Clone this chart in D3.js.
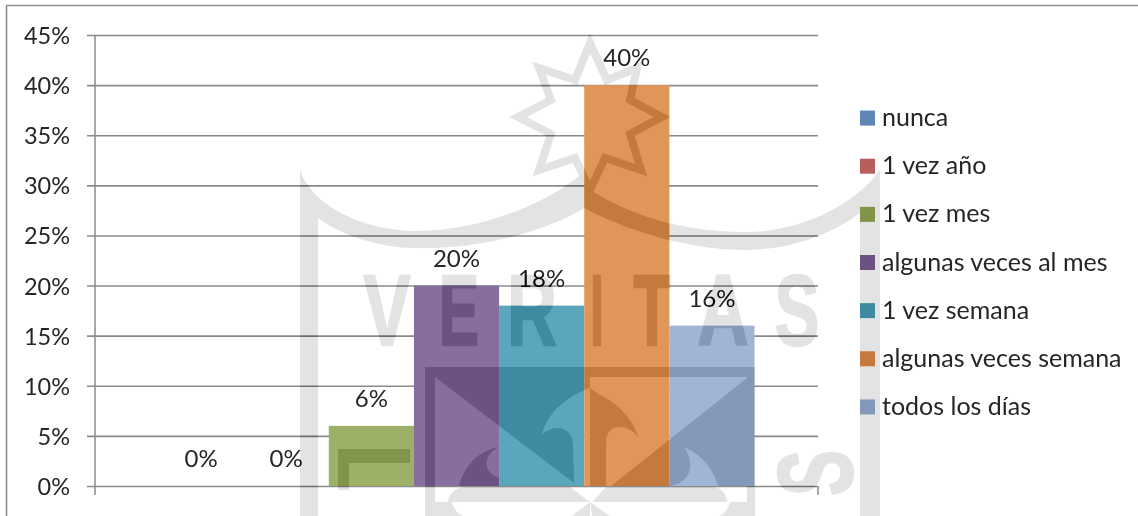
<!DOCTYPE html>
<html><head><meta charset="utf-8">
<script src="https://cdn.jsdelivr.net/npm/d3@7/dist/d3.min.js"></script>
<style>
html,body{margin:0;padding:0;background:#fff;overflow:hidden}
svg{display:block}
text{font-family:Lato,"Noto Sans",sans-serif;fill:#262626}
</style></head><body>
<div id="chart"></div>
<script>
const series = ["nunca","1 vez año","1 vez mes","algunas veces al mes","1 vez semana","algunas veces semana","todos los días"];
const values = [0,0,6,20,18,40,16];
const colors = ["#5f87b6","#b85f5e","#9cb167","#886e9e","#5aa7bd","#e09658","#a0b4d6"];
const yTicks = [0,5,10,15,20,25,30,35,40,45];
const watermarkLetters = ["V","E","R","I","T","A","S"];
const watermarkCenters = [387,459,532,597,652,723,797];
const watermarkStretch = [0.70,0.60,0.68,0.48,0.60,0.70,0.66];

const W = 1138, H = 516;
const svg = d3.select("#chart").append("svg").attr("width",W).attr("height",H);
svg.append("rect").attr("width",W).attr("height",H).attr("fill","#fff");

// chart frame
svg.append("path").attr("d","M6.5 516V5.5H1138").attr("fill","none").attr("stroke","#8f8f8f").attr("stroke-width",1.6);

const y = d3.scaleLinear().domain([0,45]).range([486,35]);
const xOuter = d3.scaleBand().domain(["all"]).range([95,818]).paddingOuter(0.1065);
const x = d3.scaleBand().domain(series).range([xOuter("all"), xOuter("all")+xOuter.bandwidth()]);
const legendY = d3.scaleBand().domain(series).range([94,431]);

// gridlines + value axis
const yAxis = d3.axisLeft(y).tickValues(yTicks).tickFormat(d=>d+"%").tickSize(0).tickPadding(25);
const gy = svg.append("g").attr("transform","translate(95,0)").call(yAxis);
gy.select(".domain").remove();
gy.selectAll("text").style("font-size","23.5px").attr("text-anchor","end").attr("dy","0.36em");
gy.selectAll(".tick").append("line").attr("x1",-8).attr("x2",723).attr("stroke","#8a8a8a").attr("stroke-width",1.6);

svg.append("line").attr("x1",95).attr("x2",95).attr("y1",35).attr("y2",495).attr("stroke","#8a8a8a").attr("stroke-width",1.5);
svg.append("line").attr("x1",818).attr("x2",818).attr("y1",486).attr("y2",495).attr("stroke","#8a8a8a").attr("stroke-width",1.5);

// bars
svg.append("g").selectAll("rect").data(series).join("rect")
  .attr("x",d=>x(d)).attr("width",x.bandwidth())
  .attr("y",(d,i)=>y(values[i])).attr("height",(d,i)=>y(0)-y(values[i]))
  .attr("fill",(d,i)=>colors[i]);

// data labels
svg.append("g").selectAll("text").data(series).join("text")
  .attr("x",d=>x(d)+x.bandwidth()/2).attr("y",(d,i)=>y(values[i])-19)
  .attr("text-anchor","middle").style("font-size","24px")
  .text((d,i)=>values[i]+"%");

// legend
const lg = svg.append("g").selectAll("g").data(series).join("g")
  .attr("transform",d=>`translate(860,${legendY(d)+legendY.bandwidth()/2})`);
lg.append("rect").attr("y",-7.5).attr("width",15).attr("height",15).attr("fill",(d,i)=>colors[i]);
lg.append("text").attr("x",22).attr("y",8).style("font-size","25px").text(d=>d);

// background seal watermark, subtractive over everything
const wm = svg.append("g").style("mix-blend-mode","difference").attr("fill","#1c1c1c");
const wmPaths = [
 "M300 170C312 205 360 230 415 231C480 231 545 205 584 172L590 190C615 205 665 232 745 232C795 232 850 210 880 170V516H860V213C830 235 790 250 745 250C690 250 630 232 584 208C550 230 480 250 415 248C380 248 340 235 318 218V516H300Z",
 "M425 367H755V516H747V377H435V516H425Z",
 "M435 377H590V388C570 395 548 410 542 435C552 424 572 425 573 444L574 483Z",
 "M459 486C464 465 480 450 499 447C483 455 482 472 499 478V486Z",
 "M590 388L600 395C618 403 634 420 639 439C632 425 606 420 606 443V486H590Z",
 "M747 378V486H611ZM685 448C700 453 713 468 718 486H669C685 485 698 470 685 448Z",
 "M448 502C448 495 455 487 465 487H570L590 502Z",
 "M592 502L606 487H712C722 487 727 495 727 502Z",
 "M435 502H452C454 510 458 514 463 516H435Z",
 "M747 502H730C728 510 724 514 719 516H747Z",
 "M590 502L572 516H590ZM590 502L610 516H592Z",
 "M338 449H410V463H349V490H338Z"
];
wm.selectAll("path.shape").data(wmPaths).join("path").attr("class","shape").attr("d",d=>d).attr("fill-rule","evenodd");
wm.append("path").attr("fill","none").attr("stroke","#1c1c1c").attr("stroke-width",8).attr("stroke-linejoin","miter")
  .attr("d","M590 43L607 80L637 68L630 100L662 117L630 134L641 170L605 158L590 190L575 158L539 170L551 134L518 117L551 100L539 68L575 80Z");
wm.selectAll("text.letter").data(watermarkLetters).join("text").attr("class","letter")
  .attr("transform",(d,i)=>`translate(${watermarkCenters[i]},345) scale(${watermarkStretch[i]},1)`)
  .attr("text-anchor","middle")
  .style("font-family","'Liberation Sans',sans-serif").style("font-weight","700").style("font-size","101px")
  .style("fill","#1c1c1c").style("stroke","#1c1c1c").style("stroke-width","2.5px")
  .text(d=>d);
wm.append("text")
  .attr("transform","translate(852,473) rotate(-90) scale(0.68,1.04)")
  .attr("text-anchor","middle")
  .style("font-family","'Liberation Sans',sans-serif").style("font-weight","700").style("font-size","101px")
  .style("fill","#1c1c1c").style("stroke","#1c1c1c").style("stroke-width","2.5px")
  .text("S");
</script>
</body></html>
